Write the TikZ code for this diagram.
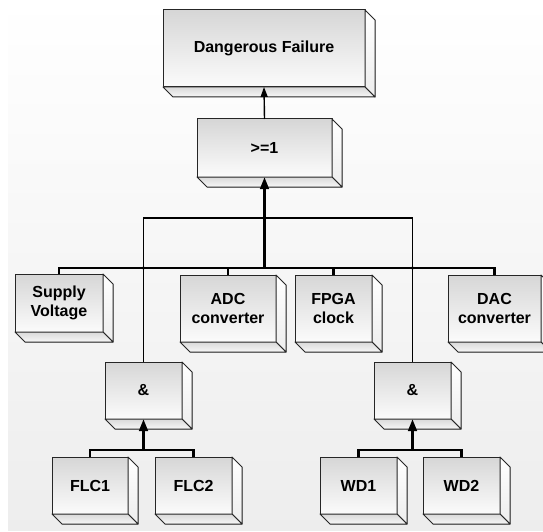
\documentclass[tikz,border=0pt]{standalone}
\usepackage{fontspec}
\setmainfont{Liberation Sans}
\usetikzlibrary{arrows.meta}

% the two visible side faces of a raised block
\newcommand\blockfaces[1]{%
  \filldraw[sideface] (#1.north east) -- ([shift={(10pt,-10pt)}]#1.north east)
    -- ([shift={(10pt,-10pt)}]#1.south east) -- (#1.south east) -- cycle;
  \filldraw[baseface] (#1.south west) -- (#1.south east)
    -- ([shift={(10pt,-10pt)}]#1.south east) -- ([shift={(10pt,-10pt)}]#1.south west) -- cycle;
}

\tikzset{
  block/.style={draw=black!85, line width=1pt, line join=round, outer sep=0pt,
    top color=gray!32, bottom color=gray!3, inner sep=0pt, align=center,
    font=\fontsize{16}{19.5}\selectfont\bfseries, text=black},
  sideface/.style={draw=black!85, line width=1pt, line join=round,
    top color=white, bottom color=gray!14},
  baseface/.style={draw=black!85, line width=1pt, line join=round,
    top color=gray!30, bottom color=gray!6},
  wire/.style={draw=black, line width=1.8pt},
  busline/.style={draw=black, line width=2.3pt, line join=miter},
  thinarrow/.style={draw=black, line width=1.4pt, -{Triangle[width=7pt,length=10pt]}},
  bigarrow/.style={draw=black, line width=2.8pt, -{Triangle[width=8.5pt,length=12pt]}},
  joint/.style={fill=black}
}

\begin{document}
\begin{tikzpicture}[x=1pt,y=-1pt]
\useasboundingbox (0,0) rectangle (543,532);
\clip (0,0) rectangle (543,532);
\fill[top color=white, bottom color=black!7] (8,0) rectangle (543,530);

% junction points of the wiring
\coordinate (bus) at (264.5,268);
\coordinate (upbus) at (264.5,218);
\coordinate (flcbus) at (143.5,450);
\coordinate (wdbus) at (412.5,450);

% blocks
\node[block, minimum width=202pt, minimum height=77pt] (DF) at (264,48.5) {Dangerous Failure};
\node[block, minimum width=135pt, minimum height=58pt] (OR) at (264.5,148) {>=1};
\node[block, minimum width=88pt, minimum height=58pt] (SV) at (59,303) {Supply\\Voltage};
\node[block, minimum width=96pt, minimum height=67pt] (ADC) at (228,308.5) {ADC\\converter};
\node[block, minimum width=77pt, minimum height=67pt] (FPGA) at (333.5,308.5) {FPGA\\clock};
\node[block, minimum width=93pt, minimum height=67pt] (DAC) at (494.5,308.5) {DAC\\converter};
\node[block, minimum width=77pt, minimum height=57pt] (AND1) at (143.5,390.5) {\&};
\node[block, minimum width=77pt, minimum height=57pt] (AND2) at (412.5,390.5) {\&};
\node[block, minimum width=76pt, minimum height=57pt] (FLC1) at (90,485.5) {FLC1};
\node[block, minimum width=77pt, minimum height=57pt] (FLC2) at (193.5,485.5) {FLC2};
\node[block, minimum width=77pt, minimum height=57pt] (WD1) at (358.5,485.5) {WD1};
\node[block, minimum width=77pt, minimum height=57pt] (WD2) at (461.5,485.5) {WD2};

\foreach \b in {DF,OR,SV,ADC,FPGA,DAC,AND1,AND2,FLC1,FLC2,WD1,WD2} {\blockfaces{\b}}

% top gate into the failure event
\draw[thinarrow] (OR.north) -- (DF.south);

% inputs of the OR gate
\draw[busline] (SV.north) |- (bus) -| (DAC.north);
\draw[busline] (ADC.north) -- (ADC.north |- bus);
\draw[busline] (FPGA.north) -- (FPGA.north |- bus);
\draw[wire] (AND1.north) |- (upbus) -| (AND2.north);
\fill[joint] (AND1.north |- bus) circle (1.8pt);
\fill[joint] (AND2.north |- bus) circle (1.8pt);
\draw[bigarrow] (bus) -- (OR.south);

% inputs of the AND gates
\draw[busline] (FLC1.north) |- (flcbus) -| (FLC2.north);
\draw[bigarrow] (flcbus) -- (AND1.south);
\draw[busline] (WD1.north) |- (wdbus) -| (WD2.north);
\draw[bigarrow] (wdbus) -- (AND2.south);
\end{tikzpicture}
\end{document}
